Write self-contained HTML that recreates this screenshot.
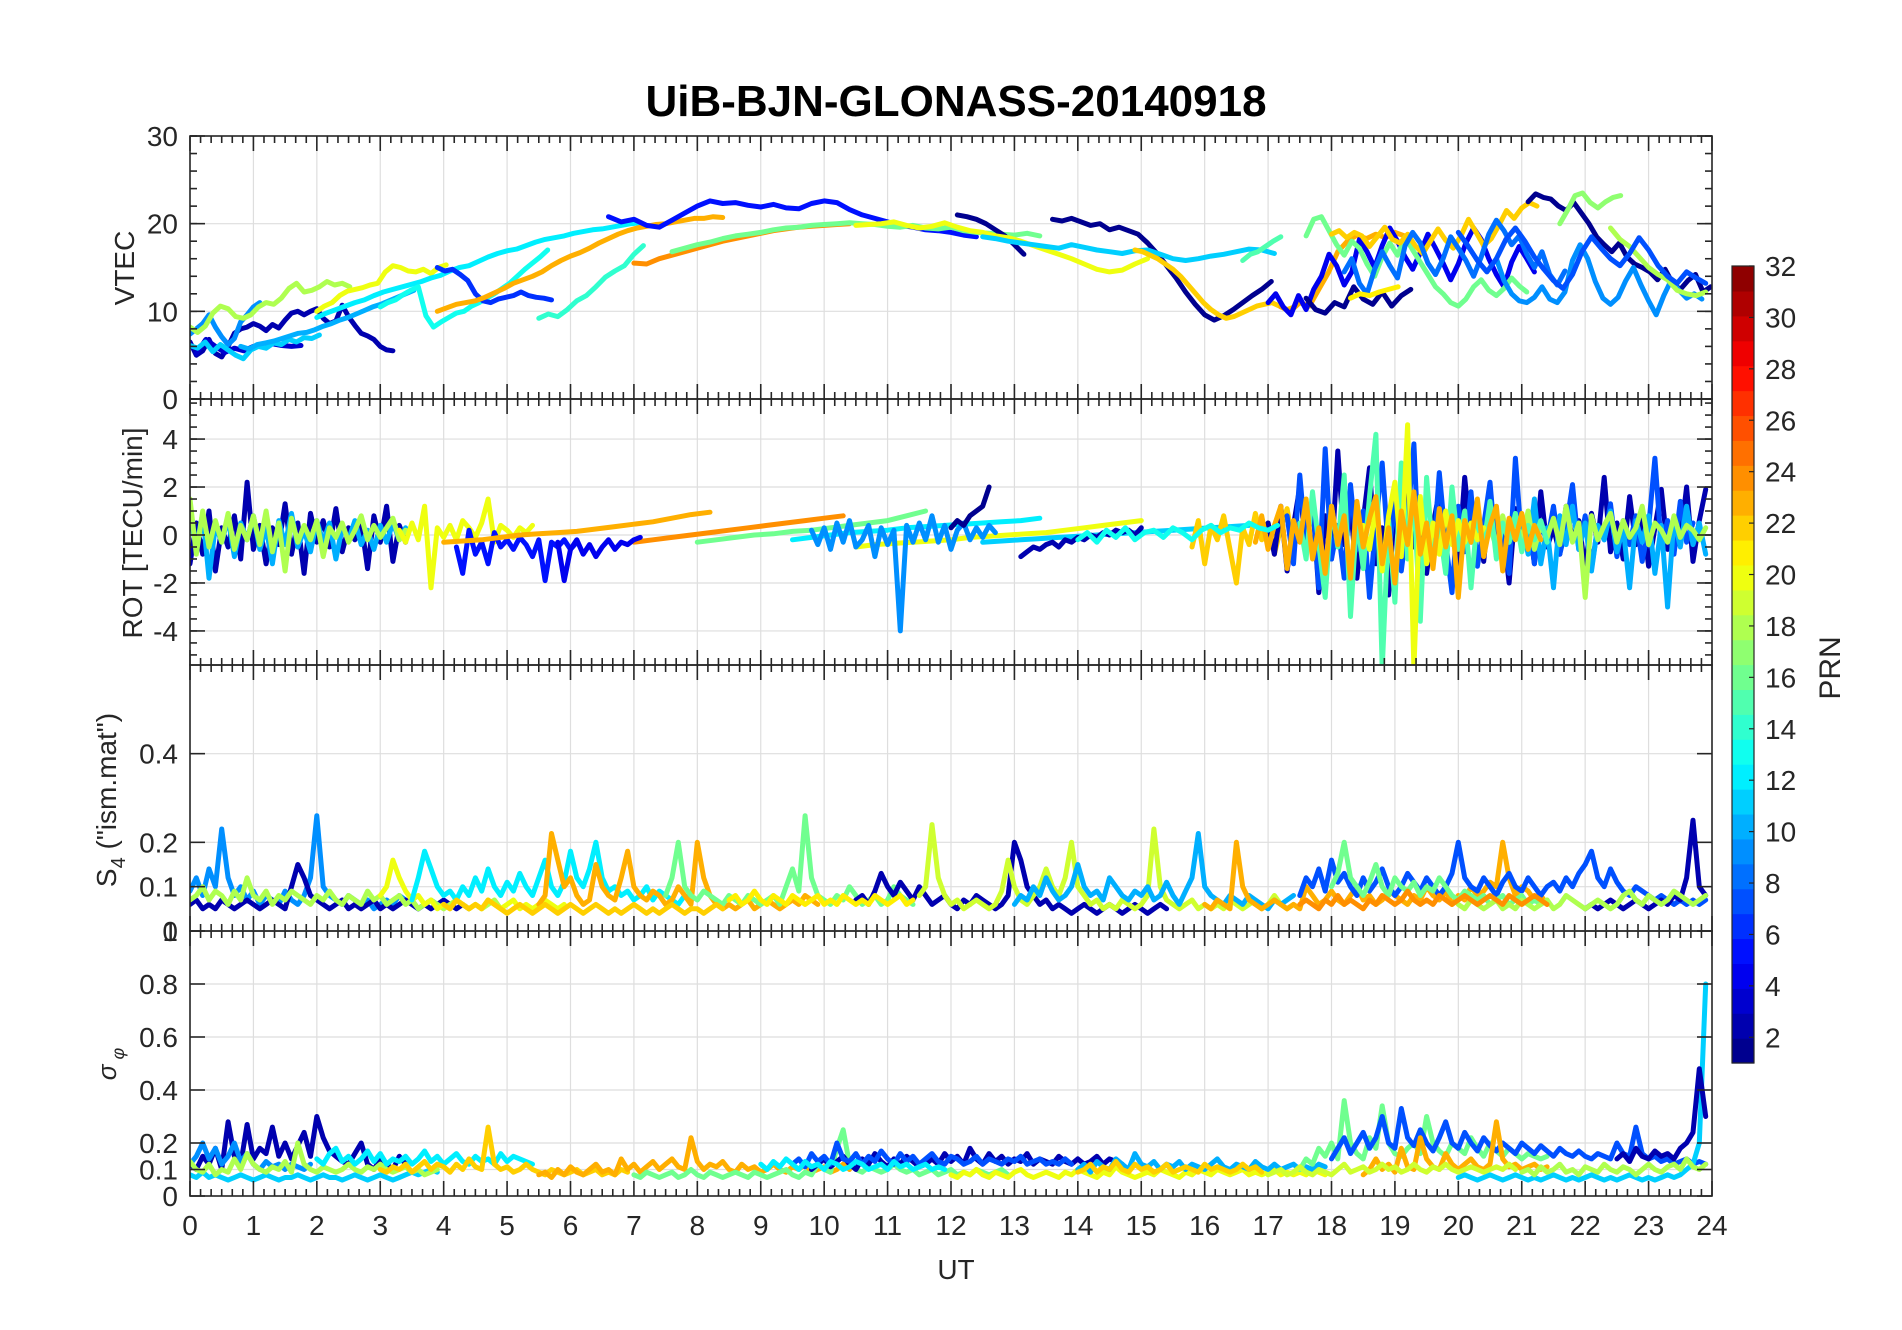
<!DOCTYPE html>
<html><head><meta charset="utf-8"><title>UiB-BJN-GLONASS-20140918</title>
<style>
html,body{margin:0;padding:0;background:#fff;}
svg{display:block;font-family:"Liberation Sans",Arial,sans-serif;}
</style></head>
<body>
<svg id="fig" width="1902" height="1330" viewBox="0 0 1902 1330" xmlns="http://www.w3.org/2000/svg">
<rect x="0" y="0" width="1902" height="1330" fill="#fff"/>
<text x="956" y="116" text-anchor="middle" font-size="44" font-weight="bold" fill="#000">UiB-BJN-GLONASS-20140918</text>
<text transform="translate(134,268) rotate(-90)" text-anchor="middle" font-size="28" fill="#262626">VTEC</text>
<text transform="translate(142,533) rotate(-90)" text-anchor="middle" font-size="28" fill="#262626">ROT [TECU/min]</text>
<text transform="translate(116,800) rotate(-90)" text-anchor="middle" font-size="28" fill="#262626">S<tspan font-size="20" dy="9">4</tspan><tspan dy="-9"> ("ism.mat")</tspan></text>
<text transform="translate(116,1064) rotate(-90)" text-anchor="middle" font-size="26" font-style="italic" fill="#262626">σ<tspan font-size="18" dy="8"> φ</tspan></text>
<text x="956" y="1279" text-anchor="middle" font-size="28" fill="#262626">UT</text>
<text transform="translate(1840,668) rotate(-90)" text-anchor="middle" font-size="30" fill="#262626">PRN</text>
<g id="layer"></g>
</svg>
<script>
const X0 = 190, X1 = 1712;
const xTickLabels = ["0","1","2","3","4","5","6","7","8","9","10","11","12","13","14","15","16","17","18","19","20","21","22","23","24"];
const vtecTicks = [0,10,20,30];
const rotTicks = [-4,-2,0,2,4];
const s4Ticks = [0,0.1,0.2,0.4];
const sigTicks = [0,0.1,0.2,0.4,0.6,0.8,1];
const cbTicks = [2,4,6,8,10,12,14,16,18,20,22,24,26,28,30,32];

const vtecMeta = [[2,0,0.1],[3,0.1,0.15],[9,0,0.1],[11,0,0.12],[10,0.8,0.13],[18,0,0.12],[20,2.0,0.12],[12,2.0,0.15],[13,3.0,0.12],[6,3.9,0.12],[14,5.5,0.15],[23,3.9,0.15],[24,7.0,0.2],[5,6.6,0.2],[16,7.6,0.2],[1,12.1,0.15],[1,13.6,0.15],[20,10.5,0.2],[11,12.5,0.2],[22,14.9,0.12],[15,16.6,0.12],[23,17.2,0.15],[4,17,0.12],[16,17.6,0.12],[22,18.0,0.12],[8,18.2,0.12],[1,17.6,0.15],[21,18.3,0.15],[1,21.1,0.12],[17,21.6,0.12],[9,20.6,0.12],[18,22.4,0.15],[7,20,0.15]];
const vtecValues = [
[6.5,5,5.5,6.8,5.2,4.8,6,7.5,8,8.2,8.6,8.3,7.8,8.5,8.1,9,9.8,10,9.6,10,10.3,9.2,8.6,8.9,10.7,9.4,8.4,7.5,7.2,6.8,6,5.6,5.5],
[5.2,6.8,6,5.3,5.8,5.5,6,6.2,6.3,6.1,6,6.1],
[7.4,8,8.6,9.6,8.2,7.1,6.2,6.9,8.8,9.6,10.5,11],
[6.1,5.8,6.5,5.4,6.2,5.6,5,4.6,5.6,6,5.8,6.4,6.2,6.8,6.5,7,6.9,7.3],
[6,5.7,6.2,6.4,6.6,6.9,7.2,7.5,7.6,7.9,8.3,8.6,9,9.3,9.7,10.1,10.5,10.8,11.2,11.6,12,12.4],
[8.2,7.6,8.3,9.8,10.6,10.3,9.4,9.2,9.6,10.5,11,10.8,11.5,12.6,13.2,12.2,12.4,12.8,13.4,13,13.2,12.8],
[10,10.6,11,11.8,12.3,12.5,12.7,13,13.2,14.5,15.2,15,14.6,14.5,14.8,14.3,15,15.3],
[9.3,9.8,10.2,10.6,11,11.3,11.8,12.2,12.5,12.8,13.1,13.4,13.8,14.1,14.6,15,15.2,15.7,16.2,16.6,16.9,17.1,17.5,17.9,18.2,18.4,18.6,18.9,19.1,19.3,19.4,19.6,19.8,20,20.1],
[10.5,11,11.3,11.9,12.4,12.8,9.5,8.2,8.8,9.3,9.8,10,10.6,11,11.5,12,12.6,13.2,14,14.8,15.5,16.2,17],
[15,14.6,14.8,14.2,13.5,12,11.2,11,11.4,11.6,11.8,12.2,11.8,11.6,11.5,11.3],
[9.2,9.7,9.4,10.2,11.2,11.8,12.8,13.9,14.6,15.2,16.5,17.5],
[10,10.4,10.8,11,11.2,11.6,12.1,12.6,13.2,13.6,14,14.5,15.2,15.8,16.3,16.7,17.2,17.8,18.3,18.8,19.2,19.5,19.7,19.9,20,20.2,20.4,20.6,20.6,20.8,20.7],
[15.5,15.4,16,16.4,16.8,17.2,17.6,18,18.3,18.6,18.9,19.2,19.4,19.6,19.7,19.8,19.9,20],
[20.8,20.2,20.5,19.8,19.6,20.4,21.2,22,22.6,22.3,22.4,22.1,21.9,22.2,21.8,21.7,22.3,22.6,22.4,21.6,21,20.6,20.2,19.8,19.6,19.3,19.2,19,18.7,18.5],
[16.8,17.2,17.6,17.9,18.3,18.6,18.8,19,19.3,19.5,19.6,19.8,19.9,20,20.1,20,19.9,19.7,19.6,19.8,19.5,19.4,19.6,19.2,19,18.9,18.8,18.7,18.9,18.6],
[21,20.8,20.5,20,19.3,18.6,17.6,16.5],
[20.5,20.3,20.6,20.2,19.8,20,19.3,19.6,19.2,18.8,17.8,16.6,15.2,13.8,12.2,10.8,9.6,9,9.5,10.2,11,11.8,12.5,13.4],
[19.8,19.9,20,20.2,19.8,19.5,19.7,20.1,19.6,19.2,19,18.6,18.4,18,17.5,17,16.5,16,15.4,14.8,14.5,14.7,15.4,16],
[18.5,18.3,18,17.8,17.6,17.4,17.2,17.6,17.3,17,16.8,16.6,16.9,17,16.5,16,15.8,16,16.3,16.5,16.8,17.1,17,16.6],
[17,16.8,16.4,16,15.4,14.8,14,13,12,11,10.2,9.6,9.2,9.4,9.8,10.2,10.6,10.8,11,10.6,10.2,10.5],
[15.8,16.5,16.8,17.4,18,18.5],
[10.5,10,11,10.6,12.5,14.4,16.8,18,18.7,18.3,18.8,18.4,19,18.6],
[11,12,10.5,9.6,11.8,10.2,12.5,14,16.5,15.2,13,14.5,18.2,16.8,15,17.5,19.5,18,16.2,14.8,16.7,18.8,17.2,15.5,13.6,15.4,17.8,19.5,18.2,16,14.2,12.8,15.6,17.4,16,14.5],
[18.6,20.5,20.8,19.2,17.6,16.4,18,17.2,15.4,14,16.2,17.8,16.4,18.5,17,15.6,14.2,12.8,12,11,10.6,11.4,12.8,13.6,12.4,11.8,12.6,13.8,12.9,12.2],
[18.8,19.2,18.4,19,18.6,17.4,18.5,19.6,18.2,17.8,18.8,17.5,16.6,18,19.4,18.1,17.2,18.6,20.5,19,17.5,18.3,19.8,21.5,20.6,21.8,22.4,22],
[14.5,16,13.2,12,14.8,16.8,15.2,13.8,17.5,19,17.8,15.5,14.2,16,18.5,17.2,15.8,14,16.2,18.8,20.4,19.2,17.6,18.6,16.5,15,16.8,14.2,13,14.6],
[11.5,10.2,9.8,11,10.5,12.8,11.4,10.8,12.2,10.6,11.8,12.5],
[11.5,12,11.8,12.2,12.5,12.8],
[22.5,23.4,23,22.8,22,21.5,22.4,21.2,20,18.5,17.6,16.8,17.8,16.2,15.4,15,14.5,13.6,14.8,13.2,12.5,13.5,14.2,12.2,12.8],
[20,21.5,23.2,23.5,22.4,21.8,22.5,23,23.2],
[16,13.5,12,11.2,11,11.6,12.8,11.4,11,12.2,15.8,17.6,16,13.4,11.5,10.8,11.6,13.5,15,13,11.2,9.6,11.8,13.6,12.4,11.5,12,11.4],
[19.5,18.2,17.4,16.2,15,14.2,13.6,12.4,12,11.8,12.2],
[19,17.5,15.8,14.5,16,18.2,19.5,18,16.2,14.8,13.5,12.6,14.2,16.8,18.5,17.2,16,15.2,16.6,18.4,17,15.2,14,13.2,14.5,13.8,13.2]
];

const rotMeta = [[2,0,0.1],[10,0,0.1],[18,0,0.1],[20,3.3,0.1],[5,4.2,0.1],[23,4.0,0.3],[24,7.0,0.3],[16,8.0,0.3],[12,9.5,0.3],[20,10.5,0.3],[11,12.5,0.3],[4,5.8,0.1],[9,9.8,0.1],[1,12.0,0.1],[2,13.1,0.1],[22,15.8,0.1],[2,17,0.1],[7,17.3,0.1],[10,21,0.1],[18,20.5,0.1],[15,17.5,0.1],[20,18.5,0.1],[23,16.8,0.1],[13,14.0,0.15]];
const rotValues = [
[-1.2,0.5,-0.8,1,-1.5,0.3,-0.5,0.8,-1,2.2,-0.6,0.4,-1.2,0.3,-0.4,1.3,-0.8,0.5,-1.6,0.9,-0.3,0.6,-0.5,1.1,-0.7,0.3,-0.2,0.5,-1.4,0.8,-0.3,1.2,-1.1,0.4,-0.3],
[0.8,-0.5,0.9,-1.8,0.4,-0.3,0.7,-0.9,0.5,-0.2,0.8,-0.6,0.3,-1.2,0.6,-0.4,0.9,-0.5,0.2,-0.7,0.6,-0.3,0.5,-1,0.3,-0.2,0.6,-0.4,0.2,-0.6,0.4,-0.3,0.5,-0.2,0.3],
[1.5,-0.8,1,-0.5,0.6,-0.3,0.9,-0.6,0.4,-0.2,0.8,-0.4,1,-0.7,0.5,-1.5,0.7,-0.3,0.4,-0.2,0.6,-0.9,0.3,-0.1,0.5,-0.3,0.2,0.8,-0.2,0.4,-0.1,0.3,0.7,-0.2,0.2],
[0.2,-0.3,0.5,-0.2,1.2,-2.2,0.3,-0.1,0.4,-0.2,0.6,0.3,-0.1,0.5,1.5,-0.3,0.4,0.2,-0.1,0.3,0.1,0.4],
[-0.5,-1.6,0.2,-0.8,-0.3,-1.2,0.1,-0.5,-0.2,-0.6,-0.1,-0.4,-0.9,-0.2,-1.9,-0.3,-0.5,-0.2,-0.6,-0.3],
[-0.3,-0.25,-0.2,-0.1,0,0.05,0.1,0.15,0.25,0.35,0.45,0.55,0.7,0.85,0.95],
[-0.3,-0.2,-0.1,0,0.1,0.2,0.3,0.4,0.5,0.6,0.7,0.8],
[-0.3,-0.2,-0.1,0,0.05,0.15,0.2,0.3,0.4,0.5,0.6,0.8,1.0],
[-0.2,-0.1,0,0.1,0.15,0.2,0.3,0.35,0.4,0.45,0.5,0.55,0.6,0.7],
[-0.5,-0.4,-0.35,-0.3,-0.25,-0.2,-0.1,-0.05,0,0.05,0.1,0.2,0.3,0.4,0.5,0.6],
[-0.3,-0.25,-0.2,-0.15,-0.1,-0.05,0,0.05,0.1,0.15,0.2,0.25,0.3,0.35,0.4,0.45],
[-0.3,-1.9,-0.6,-0.2,-0.8,-0.4,-0.9,-0.5,-0.2,-0.6,-0.3,-0.4,-0.2,-0.1],
[0.2,-0.4,0.3,-0.6,0.5,-0.3,0.6,-0.5,-0.2,0.4,-0.9,0.3,-0.4,0.2,-4,0.4,-0.3,0.5,-0.2,0.8,-0.3,0.4,-0.6,0.2,0.5,-0.2,0.3,-0.1,0.4,0.1],
[0.3,0.6,0.4,0.8,1.0,1.2,2.0],
[-0.9,-0.7,-0.5,-0.6,-0.4,-0.3,-0.5,-0.2,-0.3,-0.1,-0.2,0,-0.1,0.1,0,0.2,0.1,0.2,0,0.3],
[-0.5,0.6,-1.2,0.4,-0.2,0.8,-0.6,-2,0.3,-0.4,0.9,-0.2,0.5,-0.8,0.3,1.1,-0.5,0.4],
[0.5,-0.8,1.2,-1.5,0.4,2,-0.6,1.5,-2.4,0.8,-1,3.5,-0.4,1.2,-1.8,0.6,2.8,-1.2,0.3,-2.5,1.4,-0.7,2.2,-0.5,1,-1.6,0.4,1.8,-0.9,0.6,-1.3,2.4,-0.3,0.9,-1.1,1.5,-0.6,0.4,-2,1.1,-0.4,0.7,-1.2,1.8,-0.5,0.3,-0.8,1.2,-0.2,0.6,-1.5,0.9,-0.3,2.4,-0.7,0.5,-1,1.6,-0.4,0.8,-1.3,0.3,1.9,-0.6,0.5,-0.2,2,-1.1,0.6,1.9],
[0.8,-1.2,2.5,-0.5,1.5,-2.2,3.6,-1,0.4,-1.8,2.1,-0.6,1,-2.6,0.5,3,-0.8,1.4,-1.5,0.6,3.8,-2.2,0.5,-1,2.6,-0.3,-2.4,1.2,-0.7,1.8,-1.3,0.4,2.2,-0.9,0.3,-1.6,3.2,-0.4,0.9,-1.2,0.5,-0.3,1.2,-0.8,0.3,2.1,-0.6,0.8,-1.4,0.4,-0.2,1.3,-0.9,0.6,-0.4,0.8,-1.1,0.3,3.2,-0.5,0.6,-0.8,1.4,-0.3,0.5],
[0.6,-0.8,1.5,-1.2,0.3,-2.2,0.8,-0.4,1.2,-0.6,0.5,-1.5,0.4,-0.2,1,-0.7,0.3,-2.2,0.6,-0.3,0.8,-1.6,0.4,-3,0.7,-0.5,1.2,-0.4,0.5,-0.8],
[0.3,-0.5,0.8,-0.3,0.6,-0.2,1,-0.6,0.4,-0.1,0.7,-0.4,1.2,-0.3,0.5,-2.6,0.8,-0.2,0.4,0.9,-0.3,0.6,-0.1,0.3,1.2,-0.4,0.5,0.2,-0.3,0.8,-0.1,0.4,0.2,-0.2,0.3],
[0.5,-1,1.8,-0.4,-2.6,1.2,-0.5,2.5,-3.4,0.8,-1.4,1.6,4.2,-5.6,0.6,-2.8,3,-1,1.5,-3.6,2.4,-0.8,0.3,-1.6,2,-0.6,1,-2.2,0.8,-0.4,1.4,-1,0.5,-0.3,0.9,-0.7,0.4,-0.2,0.6,-0.3],
[0.4,-0.6,1.2,-1.5,0.8,2.2,-0.9,4.6,-5.6,1.6,-1.2,0.5,-0.8,1,-0.4,0.6,-0.3,0.5,-0.2,0.3],
[-0.3,0.8,-0.6,0.4,1.2,-1.4,0.6,-0.3,1.5,-1,0.3,-1.6,1.2,-0.4,0.8,-1.8,1.4,-0.5,0.7,1.6,-1.2,0.3,-2,1,-0.4,1.8,-0.8,0.5,-1.4,1.1,-0.5,0.8,-2.6,0.6,-0.3,1.5,-0.9,0.4,1.2,-1.5,0.7,-0.2,0.9,-0.6,0.4,-0.2],
[-0.2,0.1,-0.3,0.2,-0.1,0.3,-0.2,0.1,0.2,-0.1,0.3,0.1,-0.2,0.2,0.4,0.1,0.3,0.2,0.5,0.3,0.2,0.4]
];

const s4Meta = [[9,0,0.1],[2,0,0.1],[18,0,0.1],[20,3.0,0.1],[12,3.5,0.1],[23,5.5,0.1],[16,7.5,0.1],[2,10.5,0.1],[19,11.5,0.1],[10,13,0.1],[23,16,0.1],[7,17.5,0.1],[16,18,0.1],[2,22,0.1],[18,20,0.1],[22,4.0,0.1],[21,8.5,0.1],[24,17.5,0.1]];
const s4Values = [
[0.09,0.12,0.08,0.14,0.1,0.23,0.12,0.08,0.1,0.07,0.09,0.06,0.08,0.07,0.06,0.09,0.07,0.06,0.08,0.12,0.26,0.1,0.08,0.07,0.06,0.08,0.07,0.06,0.07,0.05,0.06,0.07,0.06,0.08,0.07,0.06,0.05,0.06,0.07,0.06],
[0.06,0.07,0.05,0.06,0.05,0.07,0.06,0.05,0.06,0.07,0.06,0.05,0.06,0.07,0.06,0.05,0.1,0.15,0.12,0.08,0.07,0.06,0.05,0.06,0.07,0.05,0.06,0.05,0.06,0.07,0.05,0.06,0.05,0.06,0.07,0.06,0.05,0.06,0.05,0.06,0.07,0.06,0.05,0.06,0.05],
[0.07,0.08,0.1,0.07,0.09,0.08,0.06,0.09,0.07,0.12,0.08,0.07,0.09,0.06,0.08,0.07,0.09,0.08,0.07,0.06,0.08,0.07,0.09,0.07,0.06,0.08,0.07,0.06,0.09,0.07,0.08,0.06,0.07,0.08,0.06,0.07,0.05,0.06,0.07,0.06,0.05,0.06,0.07,0.06,0.05,0.06,0.05,0.06,0.07,0.05],
[0.08,0.1,0.16,0.12,0.09,0.07,0.08,0.06,0.07,0.05,0.06,0.05,0.07,0.06,0.05,0.06,0.05,0.07,0.06,0.05,0.06,0.07,0.05,0.06,0.05,0.06,0.07,0.06,0.05,0.06],
[0.07,0.12,0.18,0.14,0.1,0.08,0.09,0.07,0.1,0.08,0.12,0.09,0.14,0.1,0.08,0.11,0.09,0.13,0.1,0.08,0.12,0.16,0.1,0.08,0.11,0.18,0.12,0.1,0.14,0.2,0.12,0.09,0.1,0.08,0.09,0.07,0.08,0.1,0.07,0.09,0.08,0.07,0.06,0.08,0.07],
[0.06,0.08,0.22,0.16,0.1,0.12,0.08,0.06,0.07,0.15,0.1,0.08,0.07,0.12,0.18,0.1,0.08,0.07,0.09,0.08,0.06,0.07,0.1,0.08,0.06,0.2,0.12,0.08,0.06,0.05,0.06,0.05,0.06,0.07,0.05,0.06,0.07,0.06,0.05,0.06,0.07,0.06,0.08,0.07,0.06],
[0.08,0.12,0.2,0.1,0.08,0.07,0.09,0.08,0.07,0.06,0.08,0.07,0.06,0.08,0.07,0.06,0.07,0.08,0.06,0.1,0.14,0.09,0.26,0.12,0.08,0.07,0.06,0.08,0.07,0.1,0.08,0.06,0.07,0.08,0.06,0.07,0.1,0.08,0.07,0.06],
[0.07,0.08,0.06,0.09,0.13,0.1,0.08,0.11,0.09,0.07,0.1,0.08,0.06,0.07,0.08,0.06,0.05,0.07,0.06,0.08,0.07,0.06,0.05,0.06,0.08,0.2,0.16,0.1,0.08,0.06,0.07,0.05,0.06,0.05,0.04,0.05,0.06,0.05,0.04,0.05,0.06,0.05,0.04,0.05,0.06,0.05,0.04,0.05,0.06,0.05],
[0.08,0.1,0.24,0.12,0.08,0.06,0.07,0.05,0.06,0.07,0.06,0.05,0.06,0.09,0.16,0.1,0.07,0.06,0.08,0.1,0.14,0.1,0.08,0.12,0.2,0.1,0.08,0.06,0.07,0.05,0.06,0.05,0.07,0.06,0.05,0.06,0.08,0.23,0.1,0.07,0.06,0.05,0.06,0.07,0.05,0.06,0.05,0.06,0.05,0.07,0.06,0.05,0.06,0.07,0.05,0.06,0.08,0.06,0.05,0.06],
[0.06,0.08,0.07,0.1,0.08,0.12,0.09,0.07,0.08,0.1,0.15,0.1,0.08,0.09,0.07,0.12,0.1,0.08,0.07,0.09,0.08,0.1,0.07,0.08,0.11,0.08,0.06,0.09,0.12,0.22,0.1,0.08,0.07,0.06,0.08,0.07,0.06,0.08,0.07,0.06,0.05,0.07,0.06,0.07,0.08],
[0.06,0.05,0.07,0.06,0.05,0.2,0.1,0.07,0.06,0.05,0.06,0.07,0.06,0.05,0.06,0.05,0.1,0.08,0.06,0.07,0.09,0.07,0.06,0.08,0.1,0.07,0.08,0.06,0.07,0.09,0.08,0.07,0.06,0.08,0.07,0.1,0.08,0.07,0.09,0.06,0.08,0.07,0.1,0.08,0.09,0.11,0.1,0.2,0.12,0.08,0.1,0.09,0.07,0.08,0.06],
[0.08,0.12,0.1,0.14,0.09,0.16,0.11,0.13,0.1,0.08,0.12,0.09,0.11,0.14,0.1,0.08,0.1,0.13,0.11,0.09,0.12,0.1,0.08,0.1,0.13,0.2,0.12,0.1,0.09,0.12,0.1,0.08,0.11,0.13,0.1,0.09,0.12,0.1,0.08,0.1,0.11,0.09,0.12,0.1,0.13,0.15,0.18,0.12,0.1,0.14,0.11,0.09,0.08,0.1,0.09,0.08,0.07,0.08,0.07,0.06,0.07,0.06,0.07,0.06,0.07],
[0.1,0.13,0.2,0.12,0.1,0.08,0.11,0.15,0.1,0.08,0.12,0.1,0.09,0.11,0.08,0.1,0.09,0.12,0.1,0.08,0.07,0.09,0.08,0.07,0.08,0.06,0.07,0.08,0.06,0.07,0.08,0.06,0.07,0.06,0.07],
[0.05,0.06,0.05,0.06,0.07,0.06,0.05,0.06,0.07,0.06,0.05,0.06,0.07,0.06,0.08,0.07,0.12,0.25,0.1,0.08],
[0.06,0.05,0.07,0.06,0.05,0.06,0.07,0.05,0.06,0.05,0.07,0.06,0.05,0.06,0.07,0.05,0.06,0.08,0.07,0.06,0.05,0.06,0.07,0.06,0.05,0.06,0.08,0.09,0.07,0.06,0.08,0.07,0.06,0.07,0.09,0.08,0.07,0.06,0.07,0.08],
[0.06,0.05,0.07,0.06,0.05,0.06,0.05,0.07,0.06,0.05,0.04,0.05,0.06,0.05,0.04,0.05,0.06,0.05,0.04,0.05,0.06,0.05,0.04,0.05,0.06,0.05,0.04,0.05,0.04,0.05,0.06,0.05,0.04,0.05,0.04,0.05,0.06,0.05,0.04,0.05,0.05,0.04,0.05,0.06,0.05],
[0.07,0.08,0.06,0.07,0.09,0.07,0.06,0.08,0.07,0.06,0.08,0.07,0.06,0.07,0.08,0.06,0.07,0.06,0.08,0.07,0.06,0.07,0.06,0.08,0.07,0.06,0.07,0.08,0.06,0.07],
[0.06,0.07,0.06,0.05,0.07,0.06,0.08,0.06,0.07,0.06,0.05,0.07,0.06,0.08,0.07,0.06,0.07,0.09,0.07,0.06,0.07,0.06,0.08,0.07,0.06,0.07,0.08,0.07,0.06,0.07,0.08,0.07,0.06,0.08,0.07,0.06,0.07,0.08,0.07,0.06]
];

const sigMeta = [[2,0,0.1],[9,0,0.1],[11,0,0.1],[18,0,0.1],[12,2,0.1],[22,3,0.1],[23,5.5,0.1],[16,7,0.1],[2,9.8,0.1],[7,9.5,0.1],[20,12,0.1],[10,14,0.1],[16,17.5,0.1],[7,18,0.1],[23,18.5,0.1],[11,20,0.1],[2,22.5,0.1],[18,21,0.1],[22,14.0,0.1],[12,9.0,0.1],[19,17.0,0.1]];
const sigValues = [
[0.12,0.1,0.15,0.12,0.18,0.1,0.28,0.15,0.12,0.27,0.14,0.18,0.16,0.26,0.15,0.2,0.14,0.19,0.24,0.15,0.3,0.22,0.17,0.15,0.13,0.12,0.16,0.2,0.12,0.1,0.14,0.12,0.1,0.15,0.12],
[0.12,0.15,0.2,0.14,0.18,0.12,0.15,0.2,0.13,0.16,0.12,0.1,0.13,0.11,0.12,0.1,0.12,0.11,0.1,0.12],
[0.08,0.07,0.09,0.07,0.08,0.07,0.06,0.07,0.08,0.07,0.06,0.07,0.08,0.07,0.06,0.07,0.07,0.08,0.07,0.06,0.07,0.08,0.07,0.07,0.06,0.07,0.08,0.07,0.06,0.07,0.08,0.07,0.06,0.07,0.08,0.09,0.08,0.09,0.1,0.09],
[0.13,0.1,0.09,0.12,0.08,0.1,0.09,0.14,0.1,0.16,0.12,0.1,0.09,0.11,0.1,0.13,0.09,0.2,0.12,0.1,0.09,0.11,0.1,0.09,0.1,0.12,0.1,0.09,0.11,0.1,0.12,0.1,0.09,0.1,0.11,0.09,0.1,0.08,0.09,0.1],
[0.14,0.12,0.16,0.18,0.13,0.15,0.12,0.14,0.17,0.13,0.16,0.12,0.14,0.13,0.15,0.12,0.14,0.17,0.13,0.15,0.12,0.14,0.16,0.13,0.12,0.15,0.13,0.14,0.12,0.16,0.13,0.15,0.14,0.13,0.12],
[0.1,0.09,0.11,0.1,0.12,0.09,0.11,0.13,0.1,0.12,0.11,0.09,0.12,0.1,0.14,0.11,0.1,0.26,0.12,0.1,0.11,0.09,0.1,0.12,0.1,0.09,0.08,0.1,0.09,0.08,0.09,0.1,0.08,0.09,0.1,0.08,0.09,0.08,0.1,0.09],
[0.08,0.09,0.07,0.1,0.08,0.11,0.09,0.08,0.1,0.12,0.09,0.1,0.08,0.14,0.1,0.12,0.09,0.11,0.13,0.1,0.12,0.14,0.11,0.1,0.22,0.13,0.1,0.12,0.11,0.13,0.1,0.09,0.12,0.1,0.11,0.09,0.1,0.12,0.1,0.09,0.11,0.1,0.12,0.09,0.1,0.11,0.09,0.1,0.12,0.1],
[0.08,0.07,0.09,0.08,0.07,0.08,0.09,0.07,0.08,0.1,0.08,0.07,0.09,0.08,0.07,0.08,0.09,0.08,0.07,0.09,0.08,0.07,0.08,0.09,0.1,0.08,0.07,0.09,0.08,0.12,0.1,0.09,0.18,0.25,0.12,0.1,0.09,0.11,0.1,0.09,0.1,0.12,0.1,0.09,0.1,0.08,0.09,0.1,0.08,0.09,0.1,0.08,0.09,0.08,0.1,0.09,0.08,0.09,0.1,0.08],
[0.1,0.12,0.14,0.11,0.13,0.15,0.12,0.1,0.14,0.12,0.16,0.13,0.11,0.14,0.12,0.15,0.13,0.11,0.12,0.14,0.12,0.16,0.13,0.15,0.12,0.18,0.14,0.12,0.16,0.13,0.15,0.12,0.14,0.13,0.16,0.12,0.14,0.13,0.12,0.15,0.13,0.12,0.14,0.12,0.13,0.15,0.12,0.14,0.13,0.12],
[0.12,0.14,0.11,0.16,0.13,0.15,0.12,0.2,0.14,0.13,0.16,0.12,0.15,0.13,0.17,0.14,0.12,0.16,0.13,0.15,0.12,0.14,0.16,0.13,0.12,0.15,0.14,0.12,0.13,0.15,0.12,0.14,0.13,0.12,0.14,0.13,0.15,0.12,0.13,0.14,0.12,0.13,0.12,0.14,0.12],
[0.08,0.07,0.09,0.08,0.1,0.08,0.07,0.09,0.08,0.07,0.09,0.1,0.08,0.07,0.08,0.09,0.08,0.07,0.09,0.08,0.1,0.09,0.08,0.07,0.09,0.08,0.11,0.09,0.08,0.07,0.08,0.09,0.08,0.1,0.09,0.08,0.07,0.09,0.08,0.1,0.09,0.08,0.1,0.09,0.08,0.09,0.1,0.08,0.09,0.08,0.09,0.1,0.08,0.09,0.08,0.09,0.08,0.1,0.09,0.08],
[0.1,0.12,0.09,0.13,0.11,0.1,0.14,0.12,0.1,0.16,0.12,0.11,0.13,0.1,0.12,0.11,0.13,0.1,0.12,0.11,0.1,0.12,0.14,0.11,0.1,0.12,0.11,0.1,0.13,0.11,0.1,0.12,0.1,0.11,0.12,0.1,0.11,0.1,0.12,0.11],
[0.1,0.14,0.12,0.18,0.15,0.2,0.14,0.36,0.2,0.16,0.14,0.22,0.18,0.34,0.2,0.16,0.15,0.18,0.2,0.16,0.3,0.2,0.17,0.15,0.2,0.18,0.16,0.22,0.18,0.15,0.2,0.17,0.15,0.18,0.16,0.14,0.16,0.15,0.14,0.15],
[0.14,0.18,0.22,0.16,0.2,0.24,0.18,0.22,0.3,0.2,0.18,0.33,0.22,0.19,0.25,0.2,0.17,0.22,0.28,0.2,0.18,0.24,0.2,0.17,0.22,0.19,0.17,0.2,0.18,0.16,0.2,0.18,0.16,0.19,0.17,0.15,0.18,0.16,0.15,0.17,0.15,0.14,0.16,0.15,0.14,0.2,0.16,0.15,0.26,0.16,0.14,0.15,0.13,0.14,0.12,0.13,0.14,0.12,0.13,0.12],
[0.08,0.1,0.14,0.1,0.12,0.09,0.18,0.11,0.1,0.22,0.14,0.11,0.1,0.16,0.12,0.1,0.12,0.14,0.11,0.1,0.12,0.28,0.14,0.11,0.12,0.1,0.11,0.12,0.1,0.11],
[0.07,0.08,0.07,0.06,0.07,0.08,0.07,0.06,0.07,0.08,0.07,0.06,0.07,0.06,0.07,0.08,0.07,0.06,0.07,0.06,0.07,0.08,0.07,0.06,0.07,0.06,0.07,0.08,0.07,0.06,0.07,0.06,0.07,0.08,0.07,0.08,0.1,0.12,0.2,0.8],
[0.14,0.16,0.13,0.18,0.15,0.14,0.17,0.15,0.16,0.14,0.18,0.2,0.24,0.48,0.3],
[0.09,0.1,0.08,0.11,0.09,0.1,0.12,0.09,0.1,0.08,0.11,0.1,0.09,0.12,0.1,0.09,0.11,0.1,0.08,0.1,0.12,0.1,0.09,0.11,0.12,0.1,0.14,0.11,0.1,0.12],
[0.09,0.1,0.12,0.09,0.11,0.1,0.13,0.1,0.09,0.12,0.1,0.11,0.09,0.1,0.12,0.09,0.1,0.11,0.1,0.09,0.12,0.1,0.11,0.1,0.09,0.1,0.12,0.1,0.11,0.09],
[0.12,0.1,0.13,0.11,0.14,0.12,0.1,0.13,0.11,0.12,0.1,0.13,0.12,0.1,0.11,0.13,0.12,0.1,0.11,0.12,0.1,0.13,0.11,0.12,0.1,0.11,0.12,0.1,0.11,0.1],
[0.08,0.09,0.1,0.08,0.09,0.11,0.09,0.08,0.1,0.09,0.08,0.1,0.12,0.09,0.1,0.11,0.09,0.1,0.12,0.1,0.11,0.09,0.1,0.12,0.1,0.09,0.11,0.1,0.12,0.1,0.09,0.1,0.11,0.1,0.09,0.1,0.11,0.1,0.12,0.1]
];

const NS = "http://www.w3.org/2000/svg";
const layer = document.getElementById('layer');
function jet(prn){
  const x = (prn - 0.5) / 32;
  const c = v => Math.round(255 * Math.max(0, Math.min(1, v)));
  return `rgb(${c(1.5 - Math.abs(4*x - 3))},${c(1.5 - Math.abs(4*x - 2))},${c(1.5 - Math.abs(4*x - 1))})`;
}
function el(tag, attrs, parent){
  const e = document.createElementNS(NS, tag);
  for (const k in attrs) e.setAttribute(k, attrs[k]);
  (parent || layer).appendChild(e);
  return e;
}
const sx = t => X0 + (t / 24) * (X1 - X0);

const panels = [
  {key:'vtec', top:136, bottom:399, ymin:0, ymax:30, ticks:vtecTicks, minor:2, meta:vtecMeta, values:vtecValues},
  {key:'rot', top:399, bottom:665, ymin:-5.42, ymax:5.67, ticks:rotTicks, minor:0.5, meta:rotMeta, values:rotValues},
  {key:'s4', top:665, bottom:931, ymin:0, ymax:0.6, ticks:s4Ticks, minor:0, meta:s4Meta, values:s4Values},
  {key:'sigma', top:931, bottom:1196, ymin:0, ymax:1, ticks:sigTicks, minor:0, meta:sigMeta, values:sigValues}
];

panels.forEach((p, pi) => {
  const sy = v => p.bottom - (v - p.ymin) / (p.ymax - p.ymin) * (p.bottom - p.top);
  const g = el('g', {});
  
  
  const clipId = 'clip' + pi;
  const cp = el('clipPath', {id: clipId}, g);
  el('rect', {x: X0, y: p.top, width: X1 - X0, height: p.bottom - p.top}, cp);
  const grid = el('g', {stroke:'#dedede', 'stroke-width':1.2}, g);
  
  
  xTickLabels.forEach(lab => { const x = sx(+lab); el('line', {x1:x, x2:x, y1:p.top, y2:p.bottom}, grid); });
  p.ticks.forEach(v => { const y = sy(v); el('line', {x1:X0, x2:X1, y1:y, y2:y}, grid); });
  const sg = el('g', {'clip-path':`url(#${clipId})`, fill:'none', 'stroke-width':5, 'stroke-linejoin':'round', 'stroke-linecap':'round'}, g);
  p.meta.forEach((m, si) => {
    const vals = p.values[si];
    const pts = vals.map((v, i) => sx(m[1] + i * m[2]).toFixed(1) + ',' + sy(v).toFixed(1)).join(' ');
    const pl = el('polyline', {points: pts, stroke: jet(m[0])}, sg);
    
    
  });
  const ax = el('g', {stroke:'#262626', 'stroke-width':1.6, fill:'none'}, g);
  
  
  el('rect', {x:X0, y:p.top, width:X1 - X0, height:p.bottom - p.top}, ax);
  for (let k = 0; k <= 144; k++){
    const x = sx(k / 6);
    const len = (k % 6 === 0) ? 15 : 7;
    el('line', {x1:x, x2:x, y1:p.bottom, y2:p.bottom - len}, ax);
    el('line', {x1:x, x2:x, y1:p.top, y2:p.top + len}, ax);
  }
  if (p.minor){
    for (let v = Math.ceil(p.ymin / p.minor) * p.minor; v <= p.ymax; v += p.minor){
      const y = sy(v);
      el('line', {x1:X0, x2:X0 + 7, y1:y, y2:y}, ax);
      el('line', {x1:X1, x2:X1 - 7, y1:y, y2:y}, ax);
    }
  }
  p.ticks.forEach(v => {
    const y = sy(v);
    el('line', {x1:X0, x2:X0 + 15, y1:y, y2:y}, ax);
    el('line', {x1:X1, x2:X1 - 15, y1:y, y2:y}, ax);
    const t = el('text', {x:178, y:y + 10, 'text-anchor':'end', 'font-size':28, fill:'#262626'}, g);
    
    
    t.textContent = String(v);
  });
});

xTickLabels.forEach(lab => {
  const t = el('text', {x:sx(+lab), y:1235, 'text-anchor':'middle', 'font-size':28, fill:'#262626'});
  
  
  t.textContent = lab;
});

const CB_X = 1732, CB_W = 22, CB_TOP = 266, CB_BOT = 1063;
const cb = el('g', {});


const bandH = (CB_BOT - CB_TOP) / 32;
for (let i = 1; i <= 32; i++){
  const r = el('rect', {x:CB_X, y:(CB_BOT - i * bandH).toFixed(2), width:CB_W, height:(bandH + 0.6).toFixed(2), fill:jet(i)}, cb);
  
  
}
el('rect', {x:CB_X, y:CB_TOP, width:CB_W, height:CB_BOT - CB_TOP, fill:'none', stroke:'#262626', 'stroke-width':1.2}, cb);
const cbY = v => CB_BOT - (v - 1) / 31 * (CB_BOT - CB_TOP);
cbTicks.forEach(v => {
  const y = cbY(v);
  el('line', {x1:CB_X + CB_W, x2:CB_X + CB_W - 5, y1:y, y2:y, stroke:'#262626', 'stroke-width':1.2}, cb);
  const t = el('text', {x:1765, y:y + 10, 'font-size':28, fill:'#262626'}, cb);
  
  
  t.textContent = String(v);
});
</script>
</body></html>
